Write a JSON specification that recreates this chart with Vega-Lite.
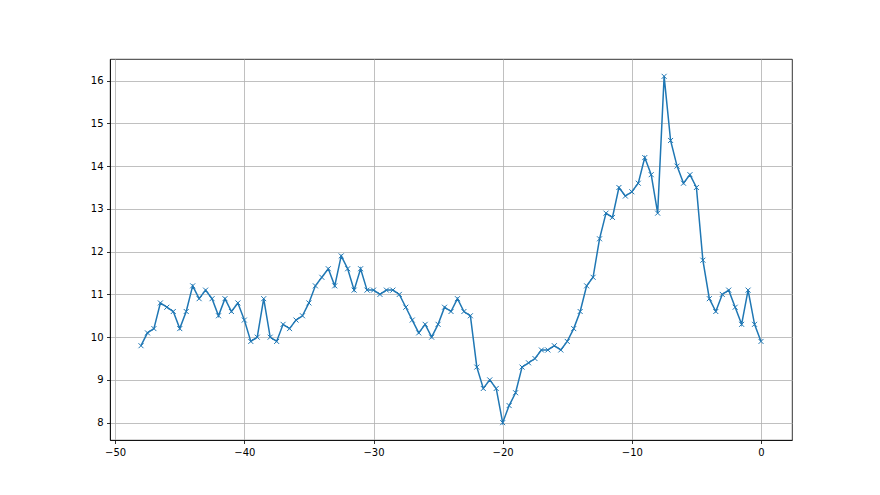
{
  "$schema": "https://vega.github.io/schema/vega-lite/v6.json",
  "autosize": {"type": "none"},
  "padding": {"left": 110, "top": 59, "right": 88, "bottom": 55},
  "width": 682,
  "height": 381,
  "background": "white",
  "config": {
    "view": {"stroke": "black", "strokeWidth": 0.8},
    "axis": {
      "domainColor": "black", "domainWidth": 0.8,
      "tickColor": "black", "tickSize": 3.5, "tickWidth": 0.8,
      "labelFont": "DejaVu Sans", "labelFontSize": 10, "labelColor": "black",
      "gridColor": "#b0b0b0", "gridWidth": 0.8, "gridOpacity": 1,
      "labelPadding": 3.5, "title": null
    }
  },
  "data": {"values": [
    {"x": -48, "y": 9.8}, {"x": -47.5, "y": 10.1}, {"x": -47, "y": 10.2}, {"x": -46.5, "y": 10.8},
    {"x": -46, "y": 10.7}, {"x": -45.5, "y": 10.6}, {"x": -45, "y": 10.2}, {"x": -44.5, "y": 10.6},
    {"x": -44, "y": 11.2}, {"x": -43.5, "y": 10.9}, {"x": -43, "y": 11.1}, {"x": -42.5, "y": 10.9},
    {"x": -42, "y": 10.5}, {"x": -41.5, "y": 10.9}, {"x": -41, "y": 10.6}, {"x": -40.5, "y": 10.8},
    {"x": -40, "y": 10.4}, {"x": -39.5, "y": 9.9}, {"x": -39, "y": 10.0}, {"x": -38.5, "y": 10.9},
    {"x": -38, "y": 10.0}, {"x": -37.5, "y": 9.9}, {"x": -37, "y": 10.3}, {"x": -36.5, "y": 10.2},
    {"x": -36, "y": 10.4}, {"x": -35.5, "y": 10.5}, {"x": -35, "y": 10.8}, {"x": -34.5, "y": 11.2},
    {"x": -34, "y": 11.4}, {"x": -33.5, "y": 11.6}, {"x": -33, "y": 11.2}, {"x": -32.5, "y": 11.9},
    {"x": -32, "y": 11.6}, {"x": -31.5, "y": 11.1}, {"x": -31, "y": 11.6}, {"x": -30.5, "y": 11.1},
    {"x": -30, "y": 11.1}, {"x": -29.5, "y": 11.0}, {"x": -29, "y": 11.1}, {"x": -28.5, "y": 11.1},
    {"x": -28, "y": 11.0}, {"x": -27.5, "y": 10.7}, {"x": -27, "y": 10.4}, {"x": -26.5, "y": 10.1},
    {"x": -26, "y": 10.3}, {"x": -25.5, "y": 10.0}, {"x": -25, "y": 10.3}, {"x": -24.5, "y": 10.7},
    {"x": -24, "y": 10.6}, {"x": -23.5, "y": 10.9}, {"x": -23, "y": 10.6}, {"x": -22.5, "y": 10.5},
    {"x": -22, "y": 9.3}, {"x": -21.5, "y": 8.8}, {"x": -21, "y": 9.0}, {"x": -20.5, "y": 8.8},
    {"x": -20, "y": 8.0}, {"x": -19.5, "y": 8.4}, {"x": -19, "y": 8.7}, {"x": -18.5, "y": 9.3},
    {"x": -18, "y": 9.4}, {"x": -17.5, "y": 9.5}, {"x": -17, "y": 9.7}, {"x": -16.5, "y": 9.7},
    {"x": -16, "y": 9.8}, {"x": -15.5, "y": 9.7}, {"x": -15, "y": 9.9}, {"x": -14.5, "y": 10.2},
    {"x": -14, "y": 10.6}, {"x": -13.5, "y": 11.2}, {"x": -13, "y": 11.4}, {"x": -12.5, "y": 12.3},
    {"x": -12, "y": 12.9}, {"x": -11.5, "y": 12.8}, {"x": -11, "y": 13.5}, {"x": -10.5, "y": 13.3},
    {"x": -10, "y": 13.4}, {"x": -9.5, "y": 13.6}, {"x": -9, "y": 14.2}, {"x": -8.5, "y": 13.8},
    {"x": -8, "y": 12.9}, {"x": -7.5, "y": 16.1}, {"x": -7, "y": 14.6}, {"x": -6.5, "y": 14.0},
    {"x": -6, "y": 13.6}, {"x": -5.5, "y": 13.8}, {"x": -5, "y": 13.5}, {"x": -4.5, "y": 11.8},
    {"x": -4, "y": 10.9}, {"x": -3.5, "y": 10.6}, {"x": -3, "y": 11.0}, {"x": -2.5, "y": 11.1},
    {"x": -2, "y": 10.7}, {"x": -1.5, "y": 10.3}, {"x": -1, "y": 11.1}, {"x": -0.5, "y": 10.3},
    {"x": 0, "y": 9.9}
  ]},
  "encoding": {
    "x": {"field": "x", "type": "quantitative",
          "scale": {"domain": [-50.4, 2.4], "nice": false, "zero": false},
          "axis": {"values": [-50, -40, -30, -20, -10, 0]}},
    "y": {"field": "y", "type": "quantitative",
          "scale": {"domain": [7.595, 16.505], "nice": false, "zero": false},
          "axis": {"values": [8, 9, 10, 11, 12, 13, 14, 15, 16]}}
  },
  "layer": [
    {"mark": {"type": "line", "color": "#1f77b4", "strokeWidth": 1.5, "clip": true}},
    {"mark": {"type": "point", "shape": "M-1,-1L1,1M-1,1L1,-1", "size": 25, "filled": false,
              "stroke": "#1f77b4", "strokeWidth": 1, "opacity": 1}}
  ]
}
